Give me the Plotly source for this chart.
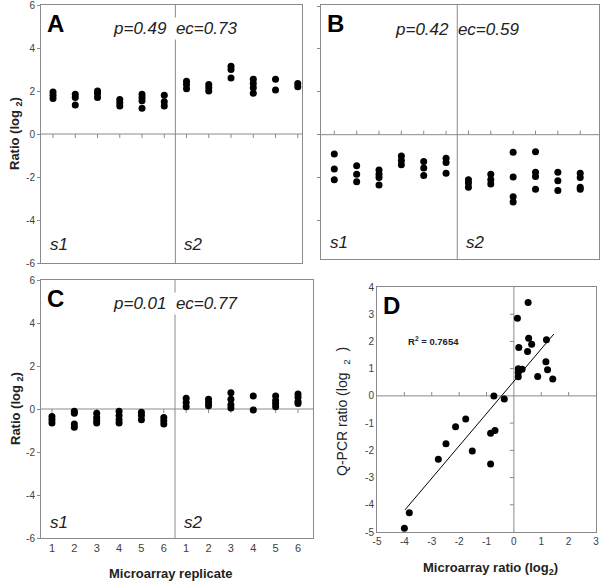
import plotly.graph_objects as go

# ---------------- data ----------------
replicates = [1, 2, 3, 4, 5, 6]
y_ticks = [-6, -4, -2, 0, 2, 4, 6]

A_s1 = [[1.95, 1.8, 1.65], [1.85, 1.7, 1.35], [2.0, 1.88, 1.7],
        [1.6, 1.45, 1.3], [1.85, 1.7, 1.55, 1.2], [1.8, 1.5, 1.3]]
A_s2 = [[2.45, 2.3, 2.1], [2.3, 2.15, 2.0], [3.15, 3.0, 2.6],
        [2.55, 2.35, 2.15, 1.9], [2.55, 2.05], [2.35, 2.2]]

B_s1 = [[-0.9, -1.6, -2.1], [-1.45, -1.85, -2.2], [-1.65, -1.85, -2.0, -2.35],
        [-1.0, -1.2, -1.4], [-1.25, -1.55, -1.9], [-1.1, -1.3, -1.8]]
B_s2 = [[-2.1, -2.25, -2.45], [-1.85, -2.1, -2.3], [-0.82, -1.97, -2.9, -3.14],
        [-0.8, -1.75, -1.95, -2.55], [-1.75, -2.15, -2.6], [-1.8, -2.0, -2.45, -2.55]]

C_s1 = [[-0.35, -0.5, -0.65], [-0.1, -0.2, -0.7, -0.85], [-0.2, -0.4, -0.55, -0.65],
        [-0.1, -0.3, -0.5, -0.65], [-0.15, -0.3, -0.5], [-0.4, -0.55, -0.7]]
C_s2 = [[0.5, 0.3, 0.1], [0.45, 0.3, 0.15], [0.75, 0.45, 0.2, 0.05],
        [0.6, -0.05], [0.6, 0.4, 0.25, 0.1], [0.7, 0.55, 0.35, 0.25]]

stats = {"A": ("0.49", "0.73"), "B": ("0.42", "0.59"), "C": ("0.01", "0.77")}

D_micro = [0.52, 0.13, 0.54, 1.19, 0.65, 0.18, 0.5, 1.17, 1.23, 0.87, 1.42,
           0.16, 0.3, 0.16, 0.16, -0.73, -0.35, -1.76, -2.13, -0.85, -0.69,
           -2.48, -1.52, -2.76, -0.85, -3.82, -4.0]
D_qpcr = [3.43, 2.85, 2.12, 2.06, 1.9, 1.78, 1.63, 1.25, 0.96, 0.71, 0.62,
          1.0, 0.98, 0.86, 0.7, 0.0, -0.11, -0.85, -1.13, -1.37, -1.27,
          -1.76, -2.02, -2.33, -2.5, -4.29, -4.86]
D_x_ticks = [-5, -4, -3, -2, -1, 0, 1, 2, 3]
D_y_ticks = [-5, -4, -3, -2, -1, 0, 1, 2, 3, 4]
fit_x = [-3.98, 1.46]
fit_y = [-4.19, 2.27]
r2_text = "0.7654"

# ---------------- style ----------------
GRAY = "#8a8a8a"
TICKC = "#404040"
FONT = "Liberation Sans, Arial, sans-serif"
W, H = 600, 585
TICK_PX = 4


def px_x(p):
    return p / W


def px_y(p):
    return 1 - p / H


def labels(vals):
    return [str(v) for v in vals]


fig = go.Figure()
INVIS = dict(size=1, color="rgba(0,0,0,0)")


def add_points(groups, xa, ya):
    xs, ys = [], []
    for g, grp in enumerate(groups):
        for rep, vals in zip(replicates, grp):
            for v in vals:
                xs.append(rep + 6 * g)
                ys.append(v)
    fig.add_trace(go.Scatter(x=xs, y=ys, mode="markers", xaxis=xa, yaxis=ya,
                             marker=dict(color="black", size=7), showlegend=False,
                             hoverinfo="skip"))


# panel geometry (pixels)
panels = {
    "A": dict(l=41, r=302, t=5, b=263, xr=[0.46, 12.19], yr=[-6, 6], up=False),
    "B": dict(l=321, r=599, t=5, b=259, xr=[0.405, 12.84], yr=[-5.8, 6.05], up=True),
    "C": dict(l=41, r=313, t=280, b=538, xr=[0.51, 12.67], yr=[-6, 6], up=False),
}
Dg = dict(l=377, r=596, t=287, b=532, xr=[-5, 3], yr=[-5, 4])
groups = {"A": [A_s1, A_s2], "B": [B_s1, B_s2], "C": [C_s1, C_s2]}

frame = dict(showline=True, linecolor=GRAY, linewidth=1, mirror=True,
             showgrid=False, zeroline=False, automargin=False,
             ticklabeloverflow="allow")
tickfont = dict(size=10, color=TICKC, family=FONT)
layout = {}
shapes = []
annotations = []
cat_vals = list(range(1, 13))

for i, (name, g) in enumerate(panels.items(), start=1):
    sx = "" if i == 1 else str(i)
    xd = [px_x(g["l"]), px_x(g["r"])]
    yd = [px_y(g["b"]), px_y(g["t"])]
    layout["xaxis" + sx] = dict(domain=xd, range=g["xr"], anchor="y" + sx,
                                ticks="", tickvals=cat_vals,
                                ticktext=labels(replicates * 2),
                                showticklabels=(name == "C"),
                                tickfont=dict(size=11, color=TICKC, family=FONT),
                                **frame)
    layout["yaxis" + sx] = dict(domain=yd, range=g["yr"], anchor="x" + sx,
                                tickvals=y_ticks, ticktext=labels(y_ticks),
                                ticks="outside", ticklen=3,
                                tickcolor=GRAY, showticklabels=(name != "B"),
                                tickfont=tickfont, **frame)
    # zero line + category ticks (error bars), drawn beneath the dots
    shapes.append(dict(type="line", xref="x" + sx + " domain", yref="y" + sx,
                       x0=0, x1=1, y0=0, y1=0, line=dict(color=GRAY, width=1),
                       layer="below"))
    unit = TICK_PX * (g["yr"][1] - g["yr"][0]) / (g["b"] - g["t"])
    err = dict(type="data", symmetric=False, array=[unit if g["up"] else 0] * 12,
               arrayminus=[0 if g["up"] else unit] * 12, width=0,
               color=GRAY, thickness=1)
    fig.add_trace(go.Scatter(x=cat_vals, y=[0] * 12, mode="markers", marker=INVIS,
                             error_y=err, xaxis="x" + sx, yaxis="y" + sx,
                             showlegend=False, hoverinfo="skip"))
    add_points(groups[name], "x" + sx, "y" + sx)
    shapes.append(dict(type="line", xref="x" + sx, yref="y" + sx + " domain",
                       x0=6.5, x1=6.5, y0=0, y1=1, line=dict(color=GRAY, width=1),
                       layer="below"))
    p, ec = stats[name]
    annotations.append(dict(xref="x" + sx, yref="y" + sx, x=6.5, y=4.9,
                            text=f"<i>p={p}  ec={ec}</i>", showarrow=False,
                            xanchor="center", yanchor="middle",
                            bgcolor="white" if name != "B" else None,
                            font=dict(size=17, color="#222", family=FONT)))
    annotations.append(dict(xref="x" + sx + " domain", yref="y" + sx + " domain",
                            x=0, y=1, xshift=4, yshift=-3, text=f"<b>{name}</b>",
                            showarrow=False, xanchor="left", yanchor="top",
                            font=dict(size=24, color="black", family=FONT)))
    ys = {"A": -5.15, "B": -5.05, "C": -5.3}[name]
    annotations.append(dict(xref="x" + sx + " domain", yref="y" + sx, x=0, y=ys,
                            xshift=7, text="<i>s1</i>", showarrow=False,
                            xanchor="left", yanchor="middle",
                            font=dict(size=17, color="#222", family=FONT)))
    annotations.append(dict(xref="x" + sx, yref="y" + sx, x=6.5, y=ys,
                            xshift=7, text="<i>s2</i>", showarrow=False,
                            xanchor="left", yanchor="middle",
                            font=dict(size=17, color="#222", family=FONT)))

# ---- panel D ----
xdD = [px_x(Dg["l"]), px_x(Dg["r"])]
ydD = [px_y(Dg["b"]), px_y(Dg["t"])]
layout["xaxis4"] = dict(domain=xdD, range=Dg["xr"], anchor="y4", ticks="",
                        tickvals=D_x_ticks, ticktext=labels(D_x_ticks),
                        tickfont=tickfont, **frame)
layout["yaxis4"] = dict(domain=ydD, range=Dg["yr"], anchor="x4", ticks="",
                        tickvals=D_y_ticks, ticktext=labels(D_y_ticks),
                        tickfont=tickfont, **frame)
shapes.append(dict(type="line", xref="x4 domain", yref="y4", x0=0, x1=1, y0=0, y1=0,
                   line=dict(color=GRAY, width=1), layer="below"))
shapes.append(dict(type="line", xref="x4", yref="y4 domain", x0=0, x1=0, y0=0, y1=1,
                   line=dict(color=GRAY, width=1), layer="below"))
ux = TICK_PX * (Dg["xr"][1] - Dg["xr"][0]) / (Dg["r"] - Dg["l"])
uy = TICK_PX * (Dg["yr"][1] - Dg["yr"][0]) / (Dg["b"] - Dg["t"])
inner_x = [v for v in D_x_ticks[1:-1] if v != 0]
inner_y = [v for v in D_y_ticks[1:-1] if v != 0]
fig.add_trace(go.Scatter(x=inner_x, y=[0] * len(inner_x), mode="markers", marker=INVIS,
                         error_y=dict(type="data", symmetric=False, array=[uy] * len(inner_x),
                                      arrayminus=[0] * len(inner_x), width=0, color=GRAY,
                                      thickness=1),
                         xaxis="x4", yaxis="y4", showlegend=False, hoverinfo="skip"))
fig.add_trace(go.Scatter(x=[0] * len(inner_y), y=inner_y, mode="markers", marker=INVIS,
                         error_x=dict(type="data", symmetric=False, array=[0] * len(inner_y),
                                      arrayminus=[ux] * len(inner_y), width=0, color=GRAY,
                                      thickness=1),
                         xaxis="x4", yaxis="y4", showlegend=False, hoverinfo="skip"))
fig.add_trace(go.Scatter(x=fit_x, y=fit_y, mode="lines", xaxis="x4", yaxis="y4",
                         line=dict(color="black", width=1), showlegend=False,
                         hoverinfo="skip"))
fig.add_trace(go.Scatter(x=D_micro, y=D_qpcr, mode="markers", xaxis="x4", yaxis="y4",
                         marker=dict(color="black", size=7), showlegend=False,
                         hoverinfo="skip"))

annotations.append(dict(xref="x4 domain", yref="y4 domain", x=0, y=1, xshift=4, yshift=-3,
                        text="<b>D</b>", showarrow=False, xanchor="left", yanchor="top",
                        font=dict(size=24, color="black", family=FONT)))
annotations.append(dict(xref="x4", yref="y4", x=-3.95, y=2.0,
                        text=f"<b>R<sup>2</sup> = {r2_text}</b>", showarrow=False,
                        xanchor="left", yanchor="middle",
                        font=dict(size=9.5, color="#222", family=FONT)))

# axis titles
for yc in [(5 + 263) / 2, (280 + 538) / 2]:
    annotations.append(dict(xref="paper", yref="paper", x=px_x(16), y=px_y(yc),
                            text="<b>Ratio (log <sub>2</sub>)</b>", textangle=-90,
                            showarrow=False, xanchor="center", yanchor="middle",
                            font=dict(size=13, color="#222", family=FONT)))
annotations.append(dict(xref="paper", yref="paper", x=px_x(171), y=px_y(573),
                        text="<b>Microarray replicate</b>", showarrow=False,
                        xanchor="center", yanchor="middle",
                        font=dict(size=13, color="#222", family=FONT)))
annotations.append(dict(xref="paper", yref="paper", x=px_x(490), y=px_y(568),
                        text="<b>Microarray ratio (log<sub>2</sub>)</b>", showarrow=False,
                        xanchor="center", yanchor="middle",
                        font=dict(size=13, color="#222", family=FONT)))
annotations.append(dict(xref="paper", yref="paper", x=px_x(343), y=px_y(412),
                        text="Q-PCR ratio (log  <sub>2</sub>  )", textangle=-90,
                        showarrow=False, xanchor="center", yanchor="middle",
                        font=dict(size=14, color="#222", family=FONT)))

fig.update_layout(width=W, height=H, margin=dict(l=0, r=0, t=0, b=0, pad=0),
                  paper_bgcolor="white", plot_bgcolor="white",
                  shapes=shapes, annotations=annotations,
                  font=dict(family=FONT), **layout)

fig.write_html("out.html", config={"displayModeBar": False},
               post_script="document.body.style.margin='0';"
                           "document.documentElement.style.overflow='hidden';")
